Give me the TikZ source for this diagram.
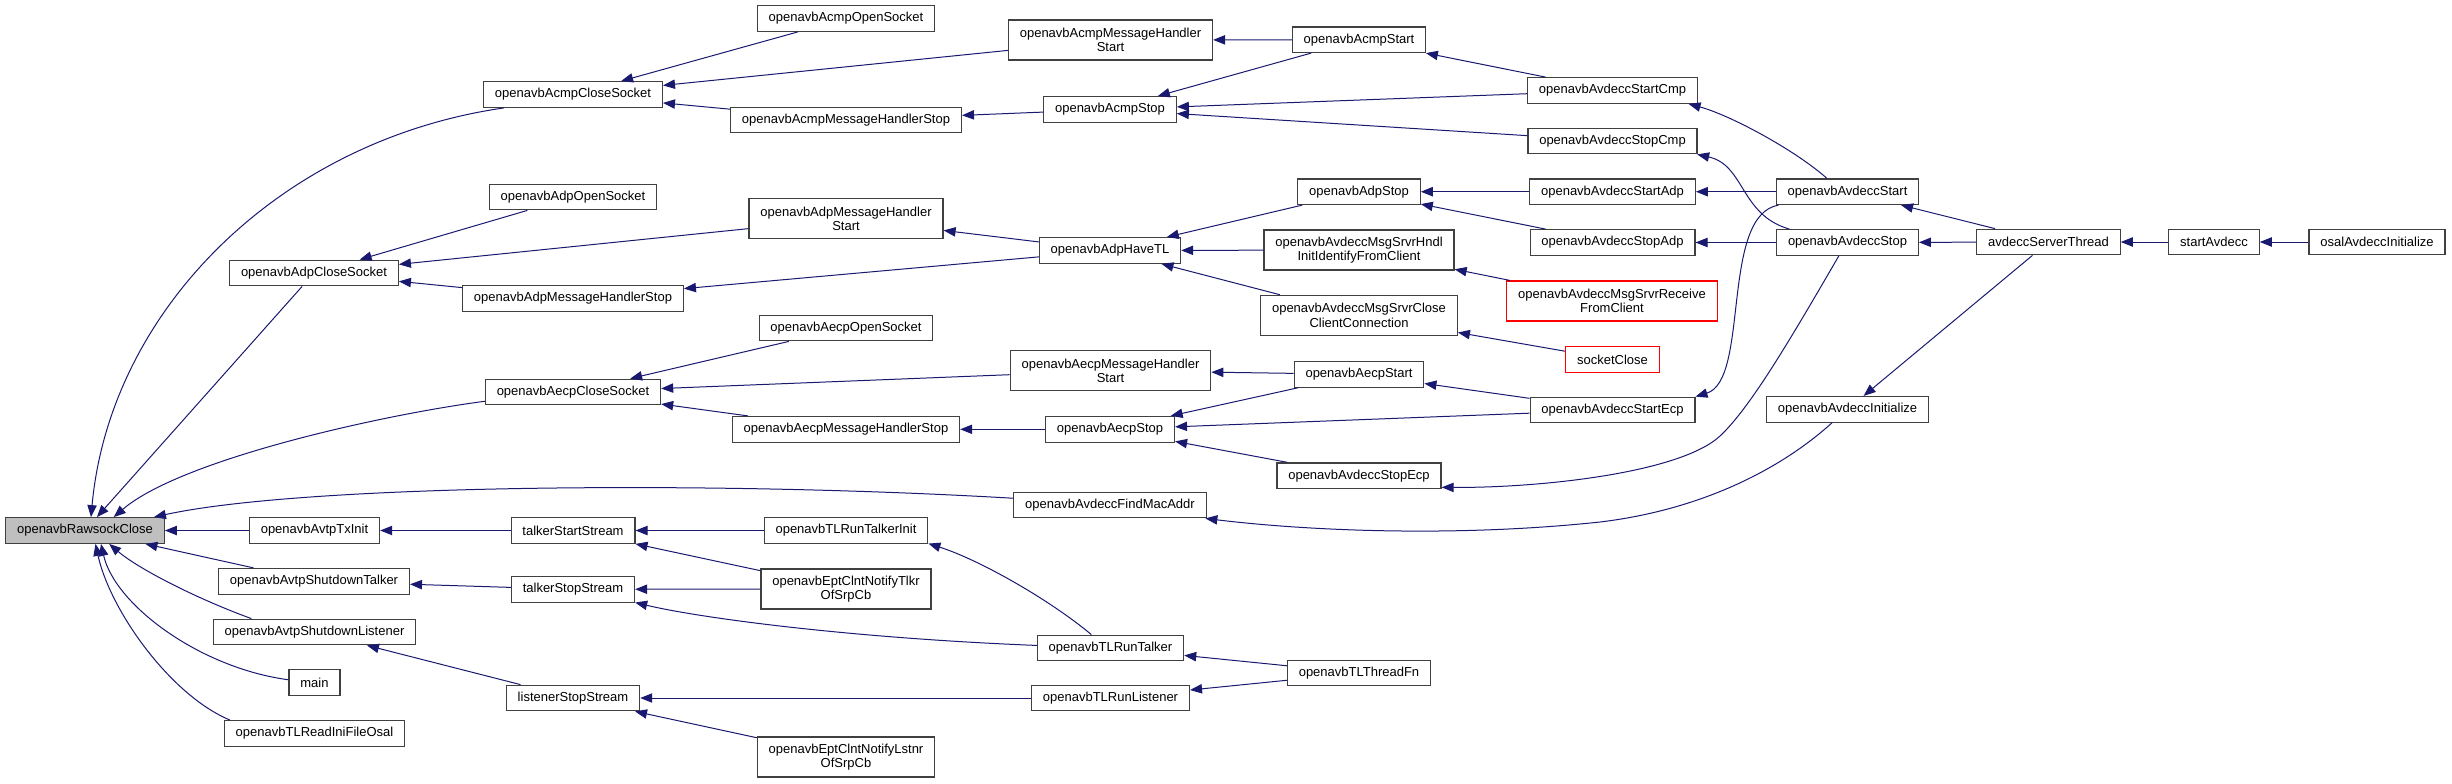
\documentclass[tikz,border=0pt]{standalone}
\usepackage{fontspec}
\setmainfont{Liberation Sans}
\usetikzlibrary{arrows.meta}
\definecolor{edgeblue}{RGB}{25,25,112}
\definecolor{boxgray}{RGB}{191,191,191}
\newcommand{\gfont}{\fontsize{9.75}{10.75}\selectfont}

\begin{document}
\begin{tikzpicture}[x=0.75pt, y=-0.75pt, every node/.style={font=\gfont}]
  \tikzstyle{fn}=[draw=black!75, line width=0.9pt, inner xsep=8.5pt, inner ysep=1pt, minimum height=19.2pt, align=center]
  \tikzstyle{fn2}=[fn, minimum height=30pt]
  \tikzstyle{miss}=[fn, draw=red]
  \tikzstyle{call}=[draw=edgeblue, line width=0.75pt, -{Triangle[length=9pt, width=7pt]}]
  \useasboundingbox (0,0) rectangle (2452,783);

  \node[fn, fill=boxgray] (raw) at (85,530.5) {openavbRawsockClose};

  \node[fn] (adpclose)   at (314,273)   {openavbAdpCloseSocket};
  \node[fn] (txinit)     at (314.5,530.5) {openavbAvtpTxInit};
  \node[fn] (shuttalk)   at (314,581.3) {openavbAvtpShutdownTalker};
  \node[fn] (shutlisten) at (314.5,632) {openavbAvtpShutdownListener};
  \node[fn] (main)       at (314.5,682.5) {main};
  \node[fn] (readini)    at (314.5,733.4) {openavbTLReadIniFileOsal};

  \node[fn] (acmpclose) at (573,94.5)  {openavbAcmpCloseSocket};
  \node[fn] (adpopen)   at (573,197)   {openavbAdpOpenSocket};
  \node[fn] (adpmhstop) at (573,298.5) {openavbAdpMessageHandlerStop};
  \node[fn] (aecpclose) at (573,392)   {openavbAecpCloseSocket};
  \node[fn] (tstart)    at (573,530.5) {talkerStartStream};
  \node[fn] (tstop)     at (573,589.3) {talkerStopStream};
  \node[fn] (lstop)     at (573,698)   {listenerStopStream};

  \node[fn]  (acmpopen)    at (846,18.5)  {openavbAcmpOpenSocket};
  \node[fn]  (acmpmhstop)  at (846,120)   {openavbAcmpMessageHandlerStop};
  \node[fn2] (adpmhstart)  at (846,218.7) {openavbAdpMessageHandler\\Start};
  \node[fn]  (aecpopen)    at (846,328)   {openavbAecpOpenSocket};
  \node[fn]  (aecpmhstop)  at (846,429.3) {openavbAecpMessageHandlerStop};
  \node[fn]  (trinit)      at (846,530.5) {openavbTLRunTalkerInit};
  \node[fn2] (notifytlkr)  at (846,589)   {openavbEptClntNotifyTlkr\\OfSrpCb};
  \node[fn2] (notifylstnr) at (846,757)   {openavbEptClntNotifyLstnr\\OfSrpCb};

  \node[fn2] (acmpmhstart) at (1110.5,40)  {openavbAcmpMessageHandler\\Start};
  \node[fn]  (acmpstop)    at (1110,109.4) {openavbAcmpStop};
  \node[fn]  (adphavetl)   at (1110,250.5) {openavbAdpHaveTL};
  \node[fn2] (aecpmhstart) at (1110.5,370.7) {openavbAecpMessageHandler\\Start};
  \node[fn]  (aecpstop)    at (1110,429.3) {openavbAecpStop};
  \node[fn]  (findmac)     at (1110,505)   {openavbAvdeccFindMacAddr};
  \node[fn]  (trtalker)    at (1110.5,648) {openavbTLRunTalker};
  \node[fn]  (trlistener)  at (1110.5,698) {openavbTLRunListener};

  \node[fn]  (acmpstart) at (1359,39.7)  {openavbAcmpStart};
  \node[fn]  (adpstop)   at (1359,191.7) {openavbAdpStop};
  \node[fn2] (hndlinit)  at (1359,250)   {openavbAvdeccMsgSrvrHndl\\InitIdentifyFromClient};
  \node[fn2] (srvrclose) at (1359,315.3) {openavbAvdeccMsgSrvrClose\\ClientConnection};
  \node[fn]  (aecpstart) at (1359,374.3) {openavbAecpStart};
  \node[fn]  (stopecp)   at (1359,475.7) {openavbAvdeccStopEcp};
  \node[fn]  (threadfn)  at (1359,673)   {openavbTLThreadFn};

  \node[fn]   (startcmp)  at (1612.5,90.5)  {openavbAvdeccStartCmp};
  \node[fn]   (stopcmp)   at (1612.5,141)   {openavbAvdeccStopCmp};
  \node[fn]   (startadp)  at (1612.5,191.7) {openavbAvdeccStartAdp};
  \node[fn]   (stopadp)   at (1612.5,242.5) {openavbAvdeccStopAdp};
  \node[miss, minimum height=30pt] (receive) at (1612,301) {openavbAvdeccMsgSrvrReceive\\FromClient};
  \node[miss] (sockclose) at (1612.5,359.5) {socketClose};
  \node[fn]   (startecp)  at (1612.5,410)   {openavbAvdeccStartEcp};

  \node[fn] (avstart)     at (1847.5,191.7) {openavbAvdeccStart};
  \node[fn] (avstop)      at (1847.5,242.5) {openavbAvdeccStop};
  \node[fn] (avinit)      at (1847.5,409.3) {openavbAvdeccInitialize};
  \node[fn] (srvthread)   at (2048.5,242)   {avdeccServerThread};
  \node[fn] (startavdecc) at (2214,242)     {startAvdecc};
  \node[fn] (osalinit)    at (2377,242)     {osalAvdeccInitialize};

  % callers of openavbRawsockClose
  \draw[call] (acmpclose.191) .. controls (280,140) and (110,310) .. (raw.66);
  \draw[call] (adpclose) -- (raw);
  \draw[call] (aecpclose.186) .. controls (380,415) and (180,460) .. (raw.25);
  \draw[call] (findmac.176) .. controls (700,480) and (300,485) .. (raw.11);
  \draw[call] (txinit) -- (raw);
  \draw[call] (shuttalk) -- (raw);
  \draw[call] (shutlisten.168) .. controls (200,600) and (140,570) .. (raw.-29);
  \draw[call] (main.174) .. controls (200,668) and (115,605) .. (raw.-40);
  \draw[call] (readini.171) .. controls (170,695) and (110,610) .. (raw.-52);

  \draw[call] (acmpopen) -- (acmpclose);
  \draw[call] (acmpmhstart) -- (acmpclose);
  \draw[call] (acmpmhstop) -- (acmpclose);
  \draw[call] (adpopen) -- (adpclose);
  \draw[call] (adpmhstart) -- (adpclose);
  \draw[call] (adpmhstop) -- (adpclose);
  \draw[call] (aecpopen) -- (aecpclose);
  \draw[call] (aecpmhstart) -- (aecpclose);
  \draw[call] (aecpmhstop) -- (aecpclose);
  \draw[call] (tstart) -- (txinit);
  \draw[call] (tstop) -- (shuttalk);
  \draw[call] (lstop) -- (shutlisten);

  \draw[call] (acmpstart) -- (acmpmhstart);
  \draw[call] (acmpstop) -- (acmpmhstop);
  \draw[call] (adphavetl) -- (adpmhstart);
  \draw[call] (adphavetl) -- (adpmhstop);
  \draw[call] (aecpstart) -- (aecpmhstart);
  \draw[call] (aecpstop) -- (aecpmhstop);
  \draw[call] (trinit) -- (tstart);
  \draw[call] (notifytlkr) -- (tstart);
  \draw[call] (notifytlkr) -- (tstop);
  \draw[call] (trtalker.178) .. controls (850,638) and (700,618) .. (tstop.-12);
  \draw[call] (trlistener) -- (lstop);
  \draw[call] (notifylstnr) -- (lstop);

  \draw[call] (acmpstart) -- (acmpstop);
  \draw[call] (startcmp) -- (acmpstart);
  \draw[call] (startcmp) -- (acmpstop);
  \draw[call] (stopcmp) -- (acmpstop);
  \draw[call] (adpstop) -- (adphavetl);
  \draw[call] (hndlinit) -- (adphavetl);
  \draw[call] (srvrclose) -- (adphavetl);
  \draw[call] (aecpstart) -- (aecpstop);
  \draw[call] (startecp) -- (aecpstart);
  \draw[call] (startecp) -- (aecpstop);
  \draw[call] (stopecp) -- (aecpstop);
  \draw[call] (avinit.221) .. controls (1780,470) and (1700,510) .. (1600,522)
    .. controls (1450,538) and (1300,530) .. (findmac.-8);
  \draw[call] (trtalker.145) .. controls (1050,600) and (980,560) .. (trinit.-9);
  \draw[call] (threadfn) -- (trtalker);
  \draw[call] (threadfn) -- (trlistener);

  \draw[call] (startadp) -- (adpstop);
  \draw[call] (stopadp) -- (adpstop);
  \draw[call] (receive) -- (hndlinit);
  \draw[call] (sockclose) -- (srvrclose);

  % avdecc start/stop
  \draw[call] (avstart.147) .. controls (1795,150) and (1730,115) .. (startcmp.-10);
  \draw[call] (avstop.167) .. controls (1740,215) and (1745,165) .. (stopcmp.-9);
  \draw[call] (avstart) -- (startadp);
  \draw[call] (avstop) -- (stopadp);
  \draw[call] (avstart.191) .. controls (1720,215) and (1750,380) .. (startecp.north east);
  \draw[call] (avstop.237) .. controls (1790,340) and (1750,408) .. (1720,436)
    .. controls (1680,473) and (1540,488) .. (stopecp.-8);

  \draw[call] (srvthread) -- (avstart);
  \draw[call] (srvthread) -- (avstop);
  \draw[call] (srvthread) -- (avinit);
  \draw[call] (startavdecc) -- (srvthread);
  \draw[call] (osalinit) -- (startavdecc);
\end{tikzpicture}
\end{document}
